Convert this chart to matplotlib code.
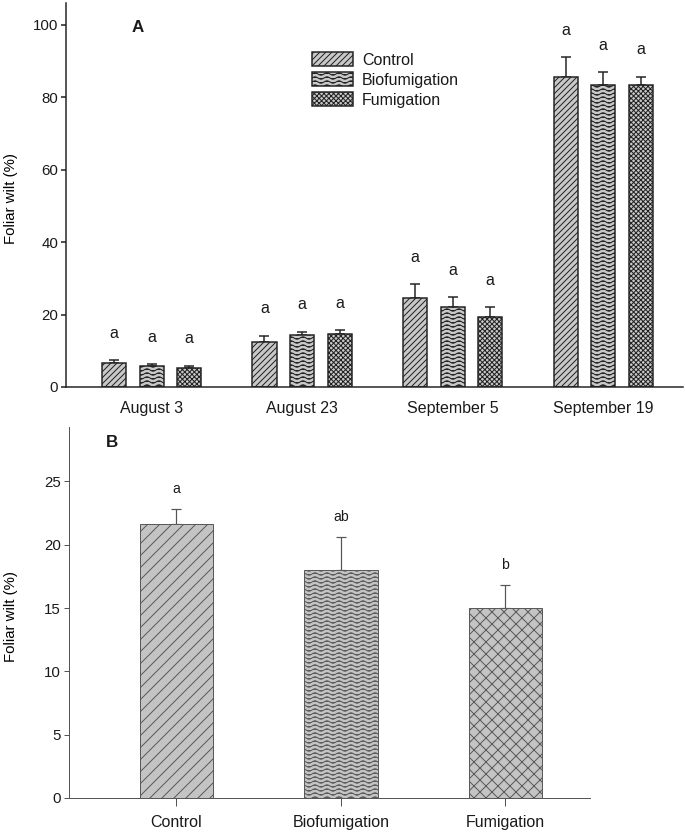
import warnings
import numpy as np
import matplotlib
matplotlib.use("Agg")
import matplotlib.pyplot as plt
import matplotlib.hatch as mhatch
from matplotlib.path import Path

warnings.filterwarnings("ignore")

# Panel A data (foliar wilt %, mean and upper error)
dates = ["August 3", "August 23", "September 5", "September 19"]
treatments = ["Control", "Biofumigation", "Fumigation"]
control_a = [6.5, 12.5, 24.5, 85.6]
bio_a = [5.9, 14.4, 22.2, 83.4]
fum_a = [5.3, 14.6, 19.4, 83.4]
control_a_err = [0.9, 1.6, 3.8, 5.4]
bio_a_err = [0.4, 0.8, 2.6, 3.5]
fum_a_err = [0.6, 1.0, 2.6, 2.2]
letters_a = [["a", "a", "a", "a"], ["a", "a", "a", "a"], ["a", "a", "a", "a"]]

# Panel B data (overall means)
means_b = [21.6, 18.0, 15.0]
err_b = [1.2, 2.6, 1.8]
letters_b = ["a", "ab", "b"]


# wavy hatch, drawn with '~'
class WavyHatch(mhatch.HatchPatternBase):
    def __init__(self, hatch, density):
        self.num_lines = int(hatch.count('~') * density)
        self.npts = 61
        self.num_vertices = self.num_lines * self.npts

    def set_vertices_and_codes(self, vertices, codes):
        t = np.linspace(0, 1, self.npts)
        step = 1.0 / self.num_lines
        for i in range(self.num_lines):
            s = slice(i * self.npts, (i + 1) * self.npts)
            vertices[s, 0] = t
            vertices[s, 1] = (i + 0.5) * step + 0.3 * step * np.sin(2 * np.pi * 6 * t)
            codes[s] = Path.LINETO
            codes[i * self.npts] = Path.MOVETO


mhatch._hatch_types.append(WavyHatch)

plt.rcParams['font.family'] = ['Liberation Sans', 'DejaVu Sans']
plt.rcParams['text.color'] = '#1a1a1a'
plt.rcParams['xtick.color'] = '#1a1a1a'
plt.rcParams['ytick.color'] = '#1a1a1a'
plt.rcParams['hatch.linewidth'] = 1.0

DPI = 72
fig = plt.figure(figsize=(685 / DPI, 836 / DPI), dpi=DPI)

# ---------------- Panel A ----------------
ax1 = fig.add_axes([0.0964, 0.5371, 0.9007, 0.4593])
x = np.arange(len(dates))
w = 0.16
off = 0.25
series = [(control_a, control_a_err, '////'), (bio_a, bio_a_err, '~~~'), (fum_a, fum_a_err, 'xxxxx')]
for k, (vals, errs, hatch) in enumerate(series):
    xs = x + (k - 1) * off
    ax1.bar(xs, vals, width=w, color='#c8c8c8', edgecolor='#222222', linewidth=1.5,
            hatch=hatch, label=treatments[k], zorder=2)
    ax1.errorbar(xs, vals, yerr=[np.zeros(len(vals)), errs], fmt='none', ecolor='#222222',
                 elinewidth=1.5, capsize=5, capthick=1.5, zorder=1)
    for xi, v, e, lt in zip(xs, vals, errs, letters_a[k]):
        ax1.annotate(lt, (xi, v + e), xytext=(0, 27), textcoords='offset points',
                     ha='center', va='center', fontsize=16)

ax1.set_xlim(-0.568, 3.53)
ax1.set_ylim(0, 106)
ax1.set_yticks([0, 20, 40, 60, 80, 100])
ax1.set_xticks(x)
ax1.set_xticklabels(dates, fontsize=16)
ax1.tick_params(axis='x', length=0, pad=14)
ax1.tick_params(axis='y', labelsize=15, length=5, width=1.5, pad=3)
for s in ['top', 'right']:
    ax1.spines[s].set_visible(False)
for s in ['left', 'bottom']:
    ax1.spines[s].set_linewidth(1.5)
    ax1.spines[s].set_color('#222222')
ax1.set_ylabel("Foliar wilt (%)", fontsize=15)
ax1.yaxis.set_label_coords(-0.078, 0.49)
ax1.text(0.1167, 0.9375, "A", transform=ax1.transAxes, fontsize=17, fontweight='bold',
         ha='center', va='center')
ax1.legend(loc='upper left', bbox_to_anchor=(0.399, 0.872), frameon=False, fontsize=16,
           handlelength=2.56, handleheight=0.94, handletextpad=0.56, labelspacing=0.3,
           borderpad=0, borderaxespad=0)

# ---------------- Panel B ----------------
ax2 = fig.add_axes([0.1007, 0.0455, 0.7606, 0.4438])
xb = np.arange(len(treatments))
hatches_b = ['//', '~~~', 'xx']
for i in range(len(treatments)):
    ax2.bar(xb[i], means_b[i], width=0.447, color='#c4c4c4', edgecolor='#5a5a5a',
            linewidth=1.0, hatch=hatches_b[i], zorder=2)
ax2.errorbar(xb, means_b, yerr=[np.zeros(len(means_b)), err_b], fmt='none', ecolor='#555555',
             elinewidth=1.2, capsize=5, capthick=1.2, zorder=1)
for xi, v, e, lt in zip(xb, means_b, err_b, letters_b):
    ax2.annotate(lt, (xi, v + e), xytext=(0, 20), textcoords='offset points',
                 ha='center', va='center', fontsize=14)

ax2.set_xlim(-0.653, 2.514)
ax2.set_ylim(0, 29.3)
ax2.set_yticks([0, 5, 10, 15, 20, 25])
ax2.set_xticks(xb)
ax2.set_xticklabels(treatments, fontsize=16)
ax2.tick_params(axis='x', length=8, width=1.0, color='#555555', pad=9)
ax2.tick_params(axis='y', labelsize=15, length=5, width=1.0, color='#555555', pad=3)
for s in ['top', 'right']:
    ax2.spines[s].set_visible(False)
for s in ['left', 'bottom']:
    ax2.spines[s].set_linewidth(1.0)
    ax2.spines[s].set_color('#555555')
ax2.set_ylabel("Foliar wilt (%)", fontsize=15)
ax2.yaxis.set_label_coords(-0.098, 0.49)
ax2.text(0.0825, 0.957, "B", transform=ax2.transAxes, fontsize=17, fontweight='bold',
         ha='center', va='center')

fig.savefig("out.png", dpi=DPI)
